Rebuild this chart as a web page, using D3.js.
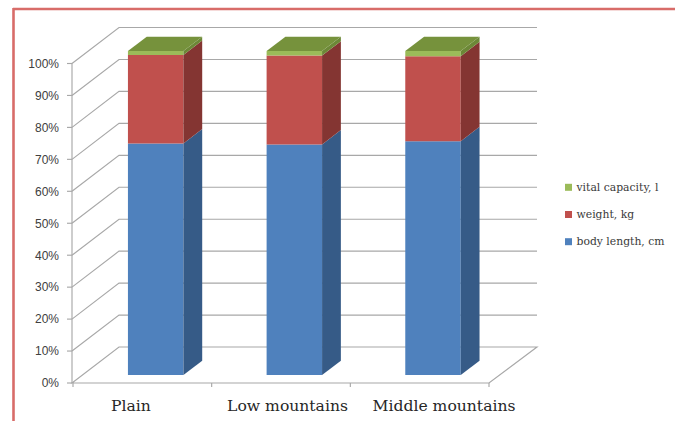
<!DOCTYPE html>
<html>
<head>
<meta charset="utf-8">
<script src="https://cdn.jsdelivr.net/npm/d3@7"></script>
<style>
  html, body { margin: 0; padding: 0; background: #fff; }
  svg { display: block; }
</style>
</head>
<body>
<svg id="chart" width="675" height="421"></svg>
<script>
// Relative composition of body indices by terrain (percent of total)
const categories = ["Plain", "Low mountains", "Middle mountains"];
const seriesNames = ["body length, cm", "weight, kg", "vital capacity, l"];
const bodyLength = [71.5, 71.2, 72.2];
const weight = [27.3, 27.4, 26.2];
const vitalCapacity = [1.2, 1.4, 1.6];
const tickValues = [0, 0.1, 0.2, 0.3, 0.4, 0.5, 0.6, 0.7, 0.8, 0.9, 1.0];

const rows = categories.map((c, i) => ({
  category: c,
  "body length, cm": bodyLength[i],
  "weight, kg": weight[i],
  "vital capacity, l": vitalCapacity[i]
}));

const palette = {
  "body length, cm":   { front: "#4f81bd", side: "#365b87", top: "#4473ab" },
  "weight, kg":        { front: "#c0504d", side: "#843532", top: "#a94542" },
  "vital capacity, l": { front: "#9bbb59", side: "#6c8837", top: "#76923c" }
};

const svg = d3.select("#chart");

// plot geometry (oblique 3D box)
const left = 72, right = 489, floorY = 383, topY = 63.5;
const depthX = 47, depthY = 36;          // wall depth offset
const z0 = 0.22, z1 = 0.62;              // bar front/back depth fractions
const barShift = 3;

const x = d3.scaleBand().domain(categories).range([left + 1, right]).padding(0);
const y = d3.scaleLinear().domain([0, 1]).range([floorY, topY]);
const yBar = d3.scaleLinear().domain([0, 1]).range([floorY, topY - 4.5]);

const stack = d3.stack().keys(seriesNames).offset(d3.stackOffsetExpand);
const stacked = stack(rows);

// outer frame
svg.append("line").attr("x1", 13).attr("x2", 675).attr("y1", 9).attr("y2", 9)
  .attr("stroke", "#d86c69").attr("stroke-width", 2.6);
svg.append("line").attr("x1", 13.5).attr("x2", 13.5).attr("y1", 8).attr("y2", 421)
  .attr("stroke", "#d86c69").attr("stroke-width", 2.6);

const gridColor = "#a8a8a8";
const grid = svg.append("g").attr("fill", "none").attr("stroke", gridColor).attr("stroke-width", 1.15);

// floor
grid.append("path")
  .attr("d", `M${left},${floorY} L${left + depthX},${floorY - depthY} L${right + depthX + 1},${floorY - depthY} L${right},${floorY} Z`);

// side wall + back wall gridlines
tickValues.filter(v => v > 0).forEach(v => {
  const yy = y(v);
  grid.append("path")
    .attr("d", `M${left},${yy} L${left + depthX},${yy - depthY} L${right + depthX + 1},${yy - depthY}`);
});

// value axis
grid.append("line").attr("x1", left).attr("x2", left).attr("y1", topY).attr("y2", floorY);
tickValues.forEach(v => {
  grid.append("line").attr("x1", left - 5).attr("x2", left).attr("y1", y(v)).attr("y2", y(v));
});
svg.append("g").selectAll("text").data(tickValues).join("text")
  .attr("x", 59).attr("y", d => y(d)).attr("dy", "0.36em")
  .attr("text-anchor", "end")
  .attr("font-family", "Liberation Sans, Arial, sans-serif")
  .attr("font-size", 12).attr("fill", "#404040")
  .text(d => d3.format(".0%")(d));

// category axis ticks
const bounds = categories.map(c => x(c)).concat([x(categories[categories.length - 1]) + x.bandwidth()]);
bounds.forEach(b => {
  grid.append("line").attr("x1", b).attr("x2", b).attr("y1", floorY).attr("y2", floorY + 4);
});

// category labels
const xLabel = d3.scalePoint().domain(categories).range([131, 444]);
svg.append("g").selectAll("text").data(categories).join("text")
  .attr("x", d => xLabel(d)).attr("y", 411)
  .attr("text-anchor", "middle")
  .attr("font-family", "DejaVu Serif, serif")
  .attr("font-size", 15.6).attr("fill", "#262626")
  .text(d => d);

// 3D stacked bars
const barW = x.bandwidth() * 0.4;
const fx = z0 * depthX, fy = z0 * depthY;
const bx = z1 * depthX, by = z1 * depthY;

const bars = svg.append("g");
categories.forEach((c, i) => {
  const xl = x(c) + (x.bandwidth() - barW) / 2 + barShift;
  const xr = xl + barW;
  const g = bars.append("g");
  stacked.forEach(layer => {
    const seg = layer[i];
    const col = palette[layer.key];
    const yb = yBar(seg[0]), yt = yBar(seg[1]);
    // front face
    g.append("path")
      .attr("d", `M${xl + fx},${yb - fy} L${xr + fx},${yb - fy} L${xr + fx},${yt - fy} L${xl + fx},${yt - fy} Z`)
      .attr("fill", col.front);
    // side face
    g.append("path")
      .attr("d", `M${xr + fx},${yb - fy} L${xr + bx},${yb - by} L${xr + bx},${yt - by} L${xr + fx},${yt - fy} Z`)
      .attr("fill", col.side);
  });
  // top face of the highest segment
  const topLayer = stacked[stacked.length - 1];
  const yt = yBar(topLayer[i][1]);
  g.append("path")
    .attr("d", `M${xl + fx},${yt - fy} L${xr + fx},${yt - fy} L${xr + bx},${yt - by} L${xl + bx},${yt - by} Z`)
    .attr("fill", palette[topLayer.key].top);
});

// legend
const legendKeys = seriesNames.slice().reverse();
const legend = svg.append("g").selectAll("g").data(legendKeys).join("g")
  .attr("transform", (d, i) => `translate(565, ${187.3 + i * 27.2})`);
legend.append("rect").attr("x", 0).attr("y", -3.5).attr("width", 7).attr("height", 7)
  .attr("fill", d => palette[d].front);
legend.append("text").attr("x", 11.5).attr("y", 0).attr("dy", "0.34em")
  .attr("font-family", "DejaVu Serif, serif")
  .attr("font-size", 10.8).attr("fill", "#3a3a3a")
  .text(d => d);
</script>
</body>
</html>
